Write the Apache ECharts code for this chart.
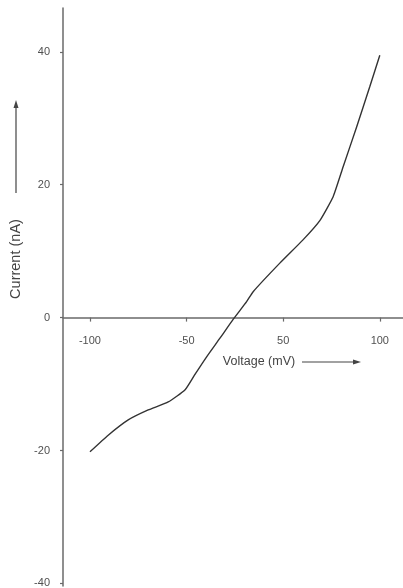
<!DOCTYPE html>
<html><head><meta charset="utf-8">
<script src="https://cdn.jsdelivr.net/npm/echarts@6/dist/echarts.min.js"></script>
<style>html,body{margin:0;padding:0;background:#fff}#c{width:403px;height:588px}</style>
</head><body><div id="c"></div>
<script>
const voltage = [-100, -87.4, -73.6, -59.8, -46, -34.5, -28, -19.5, -10.3, -1.2, 8.1, 12.6, 31, 47, 58.6, 67.8, 74.7, 84, 93, 100];
const current = [-20.2, -17.7, -15.4, -13.9, -12.7, -10.9, -8.7, -5.9, -3.1, -0.27, 2.4, 3.9, 8.2, 11.7, 14.6, 18.2, 22.7, 28.7, 34.7, 39.5];
const xTickValues = [-100, -100/3, 100/3, 100];
const xTickLabels = ['-100', '-50', '50', '100'];
const yTickValues = [-40, -20, 0, 20, 40];
const yTickLabels = ['-40', '-20', '0', '20', '40'];
const xTitle = 'Voltage (mV)';
const yTitle = 'Current (nA)';

const FONT = "'Liberation Sans', Arial, sans-serif";
const AXIS = '#6a6a6a';
const LBL = '#505050';

function lookup(vals, labels, v) {
  for (let i = 0; i < vals.length; i++) if (Math.abs(vals[i] - v) < 1e-6) return labels[i];
  return '';
}

const chart = echarts.init(document.getElementById('c'), null, {renderer: 'canvas'});
chart.setOption({
  animation: false,
  backgroundColor: '#fff',
  grid: {left: 63, right: 0, top: 8, bottom: 2, containLabel: false, outerBoundsMode: 'none'},
  xAxis: {
    type: 'value', min: -118.6, max: 116,
    axisLine: {onZero: true, lineStyle: {color: AXIS, width: 1.5}},
    axisTick: {show: true, length: 4, customValues: xTickValues, lineStyle: {color: AXIS, width: 1.2}},
    axisLabel: {customValues: xTickValues, margin: -251, color: LBL, fontSize: 11, fontFamily: FONT,
      formatter: v => lookup(xTickValues, xTickLabels, v)},
    splitLine: {show: false}
  },
  yAxis: {
    type: 'value', min: -40.4, max: 46.6,
    axisLine: {show: true, onZero: false, lineStyle: {color: AXIS, width: 1.5}},
    axisTick: {show: true, length: 3, customValues: yTickValues, lineStyle: {color: AXIS, width: 1.2}},
    axisLabel: {customValues: yTickValues, margin: 13, color: LBL, fontSize: 11, fontFamily: FONT,
      formatter: v => lookup(yTickValues, yTickLabels, v)},
    splitLine: {show: false}
  },
  series: [{
    type: 'line',
    data: voltage.map((v, i) => [v, current[i]]),
    smooth: 0.15,
    showSymbol: false,
    lineStyle: {color: '#333', width: 1.4}
  }],
  graphic: [
    {type: 'text', x: 259, y: 362, style: {text: xTitle, fill: '#444', font: '12.5px ' + FONT, textAlign: 'center', textVerticalAlign: 'middle'}},
    {type: 'line', shape: {x1: 302, y1: 362, x2: 356, y2: 362}, style: {stroke: '#444', lineWidth: 1.2}},
    {type: 'polygon', shape: {points: [[361, 362], [353, 359.5], [353, 364.5]]}, style: {fill: '#444'}},
    {type: 'text', x: 16, y: 259, rotation: Math.PI / 2, style: {text: yTitle, fill: '#444', font: '14.5px ' + FONT, textAlign: 'center', textVerticalAlign: 'middle'}},
    {type: 'line', shape: {x1: 16, y1: 193, x2: 16, y2: 105}, style: {stroke: '#444', lineWidth: 1.2}},
    {type: 'polygon', shape: {points: [[16, 100], [13.5, 108], [18.5, 108]]}, style: {fill: '#444'}}
  ]
});
</script>
</body></html>
